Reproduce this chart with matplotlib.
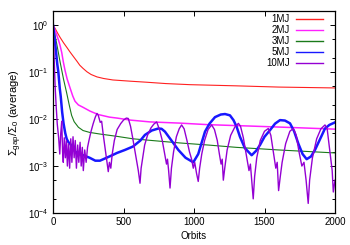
import numpy as np
import matplotlib
matplotlib.use('Agg')
import matplotlib.pyplot as plt
from matplotlib.ticker import LogLocator, NullFormatter, MultipleLocator

plt.rcParams['font.family'] = ['Liberation Sans', 'DejaVu Sans']
plt.rcParams['mathtext.fontset'] = 'custom'
plt.rcParams['mathtext.rm'] = 'Liberation Sans'
plt.rcParams['mathtext.it'] = 'Liberation Sans:italic'
plt.rcParams['font.size'] = 7

# -------------------------------------------------------
# Data
# -------------------------------------------------------
orbits_1mj = [0, 14, 30, 50, 75, 100, 120, 142, 170, 190, 213, 240, 270, 312,
              360, 425, 550, 660, 800, 972, 1300, 1600, 2000]
gap_1mj = [1.0, 0.86, 0.7, 0.55, 0.42, 0.33, 0.27, 0.22, 0.17, 0.14, 0.12,
           0.102, 0.089, 0.079, 0.073, 0.068, 0.064, 0.061, 0.057, 0.054,
           0.051, 0.048, 0.046]

orbits_2mj = [0, 20, 40, 50, 62, 73, 85, 100, 121, 140, 156, 180, 210, 262,
              320, 400, 454, 550, 688, 900, 1100, 1397, 1700, 2000]
gap_2mj = [1.0, 0.7, 0.47, 0.37, 0.26, 0.166, 0.11, 0.072, 0.046, 0.031,
           0.024, 0.02, 0.018, 0.0148, 0.0125, 0.011, 0.0105, 0.0095, 0.0087,
           0.0082, 0.0076, 0.0071, 0.0066, 0.0061]

orbits_3mj = [0, 15, 30, 50, 75, 97, 115, 132, 150, 180, 213, 260, 333, 450,
              567, 700, 900, 1100, 1300, 1600, 2000]
gap_3mj = [1.0, 0.6, 0.35, 0.166, 0.07, 0.036, 0.02, 0.012, 0.0088, 0.0067,
           0.0057, 0.0052, 0.0048, 0.0043, 0.0038, 0.0035, 0.0031, 0.0028,
           0.0025, 0.0022, 0.0019]

orbits_5mj = [0, 10, 20, 30, 38, 48, 55, 65, 75, 87, 97, 110, 121, 140, 160,
              185, 213, 260, 300, 333, 380, 420, 454, 510, 567, 620, 652, 700,
              747, 770, 794, 840, 889, 940, 995, 1030, 1078, 1110, 1149, 1190,
              1220, 1255, 1280, 1302, 1326, 1361, 1409, 1440, 1468, 1500, 1539,
              1575, 1610, 1645, 1681, 1710, 1740, 1770, 1799, 1830, 1858, 1895,
              1929, 1960, 2000]
gap_5mj = [1.0, 0.55, 0.3, 0.15, 0.1, 0.045, 0.03, 0.014, 0.008, 0.005, 0.0038,
           0.0032, 0.003, 0.0024, 0.002, 0.0018, 0.0017, 0.0015, 0.0013,
           0.0013, 0.0015, 0.0017, 0.0019, 0.0022, 0.0026, 0.0035, 0.0046,
           0.0057, 0.0063, 0.0062, 0.0054, 0.0035, 0.0022, 0.0015, 0.0012,
           0.0018, 0.0054, 0.008, 0.011, 0.0125, 0.0128, 0.012, 0.0095, 0.0069,
           0.0042, 0.0024, 0.0017, 0.0021, 0.0028, 0.0042, 0.0058, 0.008,
           0.0095, 0.0093, 0.0081, 0.0055, 0.003, 0.0018, 0.0014, 0.0016,
           0.0022, 0.0038, 0.0063, 0.0075, 0.0085]

orbits_10mj = [0, 8, 15, 22, 30, 40, 48, 55, 62, 68, 73, 80, 88, 95, 102, 110,
               118, 126, 134, 142, 150, 158, 166, 175, 183, 192, 200, 208, 215,
               225, 235, 245, 255, 270, 285, 300, 312, 321, 335, 345, 355, 365,
               375, 385, 392, 400, 410, 420, 435, 455, 480, 500, 520, 534, 550,
               565, 580, 595, 605, 617, 625, 635, 650, 670, 695, 715, 735, 755,
               775, 792, 805, 812, 820, 830, 840, 855, 875, 895, 912, 930, 950,
               968, 983, 995, 1005, 1018, 1030, 1040, 1055, 1075, 1100, 1125,
               1145, 1165, 1180, 1192, 1200, 1208, 1218, 1235, 1260, 1290, 1315,
               1330, 1350, 1370, 1390, 1400, 1412, 1420, 1430, 1445, 1470, 1500,
               1527, 1545, 1565, 1580, 1590, 1600, 1612, 1625, 1650, 1680, 1704,
               1725, 1745, 1765, 1780, 1795, 1810, 1820, 1840, 1870, 1900, 1929,
               1945, 1960, 1972, 1980, 1988, 1995, 2000]
gap_10mj = [1.0, 0.2, 0.05, 0.02, 0.008, 0.004, 0.0018, 0.005, 0.009, 0.002,
            0.0012, 0.004, 0.0015, 0.0035, 0.001, 0.003, 0.0009, 0.0038, 0.0012,
            0.0042, 0.0015, 0.0035, 0.0009, 0.0028, 0.0012, 0.0032, 0.001,
            0.0025, 0.0008, 0.0022, 0.0012, 0.0025, 0.0035, 0.0055, 0.008,
            0.011, 0.0132, 0.012, 0.0085, 0.009, 0.005, 0.003, 0.0018, 0.0011,
            0.00076, 0.0012, 0.0009, 0.0018, 0.0035, 0.006, 0.008, 0.0095,
            0.0105, 0.0103, 0.007, 0.004, 0.0022, 0.0012, 0.0008, 0.00043,
            0.0009, 0.0014, 0.0028, 0.0045, 0.0065, 0.0078, 0.0087, 0.006,
            0.0035, 0.0018, 0.0011, 0.0014, 0.0008, 0.00034, 0.0009, 0.002,
            0.0042, 0.0062, 0.0075, 0.0062, 0.0035, 0.002, 0.0014, 0.0009,
            0.0012, 0.0007, 0.00047, 0.0009, 0.0018, 0.0035, 0.006, 0.0075,
            0.006, 0.0035, 0.0018, 0.0011, 0.0014, 0.0005, 0.0009, 0.0022,
            0.0045, 0.0068, 0.0081, 0.007, 0.004, 0.0018, 0.0008, 0.0011,
            0.0004, 0.0002, 0.0006, 0.0015, 0.0035, 0.0055, 0.0063, 0.0045,
            0.0018, 0.0009, 0.0012, 0.0003, 0.0006, 0.0012, 0.003, 0.0055,
            0.0063, 0.0045, 0.002, 0.001, 0.0012, 0.0005, 0.00016, 0.0005,
            0.0015, 0.0038, 0.0062, 0.0075, 0.006, 0.0025, 0.0012, 0.0008,
            0.00028, 0.0004, 0.0005]

series = [
    ('1MJ', orbits_1mj, gap_1mj, '#ff2020', 0.8),
    ('2MJ', orbits_2mj, gap_2mj, '#ff20ff', 1.1),
    ('3MJ', orbits_3mj, gap_3mj, '#1a7a1a', 0.8),
    ('5MJ', orbits_5mj, gap_5mj, '#1818ff', 1.8),
    ('10MJ', orbits_10mj, gap_10mj, '#9400d3', 1.0),
]

fig = plt.figure(figsize=(3.5, 2.45), dpi=100)
ax = fig.add_axes([53 / 350, 1 - 213 / 245, (335 - 53) / 350, (213 - 11) / 245])

for label, x, y, color, lw in series:
    ax.plot(x, y, color=color, linewidth=lw, label=label)

ax.set_yscale('log')
ax.set_xlim(0, 2000)
ax.set_ylim(1e-4, 2.0)
ax.xaxis.set_major_locator(MultipleLocator(500))
ax.yaxis.set_major_locator(LogLocator(base=10, numticks=10))
ax.yaxis.set_minor_locator(LogLocator(base=10, subs=(2, 5), numticks=10))
ax.yaxis.set_minor_formatter(NullFormatter())

ax.tick_params(which='both', direction='in', top=True, right=True,
               labelsize=7, width=0.7, pad=3)
ax.tick_params(which='major', length=3.5)
ax.tick_params(which='minor', length=2)
for s in ax.spines.values():
    s.set_linewidth(0.9)

ax.set_xlabel('Orbits', fontsize=7, labelpad=3)
ax.set_ylabel(r'$\mathregular{\Sigma_{gap}/\Sigma_0}$ (average)', fontsize=8,
              labelpad=3)

leg = ax.legend(loc='upper right', bbox_to_anchor=(0.957, 0.985),
                frameon=False, markerfirst=False, fontsize=7,
                handlelength=2.8, handletextpad=0.6, labelspacing=0.1,
                borderpad=0, borderaxespad=0)
for h in leg.get_lines():
    h.set_linewidth(1.0)

plt.savefig('out.png', dpi=100)
plt.close()
